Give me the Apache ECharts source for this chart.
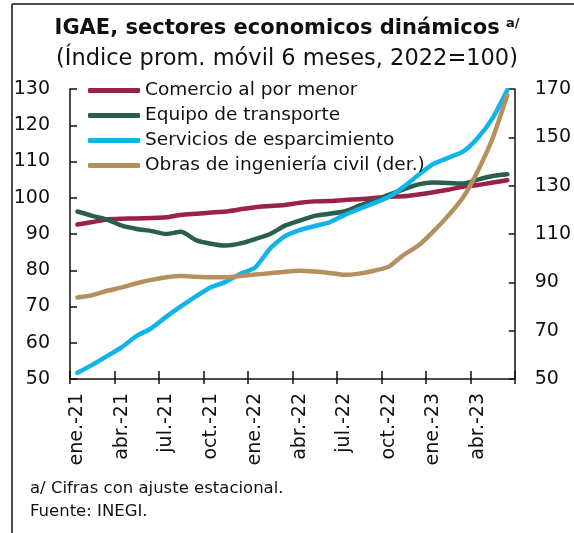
<!DOCTYPE html>
<html>
<head>
<meta charset="utf-8">
<script src="https://cdn.jsdelivr.net/npm/echarts@6/dist/echarts.min.js"></script>
<style>
  html, body { margin: 0; padding: 0; background: #fff; }
  #chart { width: 574px; height: 533px; }
</style>
</head>
<body>
<div id="chart"></div>
<script>
// meses ene-21 a jun-23
const meses = [
  'ene.-21', 'feb.-21', 'mar.-21', 'abr.-21', 'may.-21', 'jun.-21',
  'jul.-21', 'ago.-21', 'sep.-21', 'oct.-21', 'nov.-21', 'dic.-21',
  'ene.-22', 'feb.-22', 'mar.-22', 'abr.-22', 'may.-22', 'jun.-22',
  'jul.-22', 'ago.-22', 'sep.-22', 'oct.-22', 'nov.-22', 'dic.-22',
  'ene.-23', 'feb.-23', 'mar.-23', 'abr.-23', 'may.-23', 'jun.-23'
];

const comercio = [92.6, 93.3, 94.0, 94.2, 94.3, 94.4, 94.6, 95.3, 95.6, 95.9,
  96.2, 96.8, 97.4, 97.7, 98.0, 98.6, 99.0, 99.1, 99.4, 99.6,
  99.9, 100.3, 100.4, 100.9, 101.5, 102.2, 103.0, 103.5, 104.2, 104.8];
const transporte = [96.2, 95.0, 94.0, 92.3, 91.4, 90.8, 90.0, 90.6, 88.3, 87.3,
  86.8, 87.4, 88.6, 90.0, 92.3, 93.7, 95.0, 95.6, 96.2, 97.8,
  99.2, 100.8, 102.3, 103.7, 104.2, 104.1, 103.9, 105.0, 106.0, 106.5];
const esparcimiento = [51.7, 53.9, 56.3, 58.8, 61.9, 64.0, 67.2, 70.1, 72.8, 75.3,
  76.8, 79.0, 80.8, 86.0, 89.4, 91.1, 92.2, 93.2, 95.2, 96.9,
  98.5, 100.2, 103.0, 106.3, 109.3, 111.0, 112.7, 116.5, 121.9, 129.7];
const ingenieria = [83.7, 84.7, 86.5, 87.9, 89.6, 91.0, 92.1, 92.6, 92.3, 92.1,
  92.1, 92.6, 93.2, 93.8, 94.4, 94.8, 94.5, 93.9, 93.1, 93.6,
  94.8, 96.5, 101.3, 105.2, 111.0, 117.5, 125.0, 136.0, 149.5, 167.5];

const ticksIzq = [50, 60, 70, 80, 90, 100, 110, 120, 130];
const ticksDer = [50, 70, 90, 110, 130, 150, 170];

const fuente = '"DejaVu Sans", sans-serif';
const negro = '#111';

const chart = echarts.init(document.getElementById('chart'));

const linea = (name, data, color, yAxisIndex) => ({
  name: name,
  type: 'line',
  data: data,
  yAxisIndex: yAxisIndex,
  symbol: 'none',
  smooth: 0.2,
  lineStyle: { color: color, width: 4.5, cap: 'round', join: 'round' },
  itemStyle: { color: color },
  z: 3
});

const option = {
  animation: false,
  textStyle: { fontFamily: fuente },
  title: [{
    text: '{t|IGAE, sectores economicos dinámicos} {s|a/}',
    left: 'center',
    top: 12,
    textStyle: {
      rich: {
        t: { fontFamily: fuente, fontSize: 21, fontWeight: 'bold', color: negro },
        s: { fontFamily: fuente, fontSize: 13, fontWeight: 'bold', color: negro, verticalAlign: 'top', padding: [0, 0, 10, 0] }
      }
    }
  }, {
    text: '(Índice prom. móvil 6 meses, 2022=100)',
    left: 'center',
    top: 43,
    textStyle: { fontFamily: fuente, fontSize: 22.5, fontWeight: 'normal', color: negro }
  }],
  legend: {
    orient: 'vertical',
    left: 83,
    top: 76,
    itemWidth: 52,
    itemHeight: 5,
    itemGap: 6,
    icon: 'roundRect',
    textStyle: { fontFamily: fuente, fontSize: 18.5, color: negro, lineHeight: 19 },
    data: ['Comercio al por menor', 'Equipo de transporte', 'Servicios de esparcimiento', 'Obras de ingeniería civil (der.)']
  },
  grid: { left: 70, right: 56, top: 89, bottom: 154, containLabel: false },
  xAxis: [{
    type: 'category',
    data: meses,
    boundaryGap: true,
    axisLine: { show: true, lineStyle: { color: negro, width: 1.5 } },
    axisTick: { show: true, inside: true, length: 8, interval: 2, lineStyle: { color: negro, width: 1.5 } },
    axisLabel: { interval: 2, rotate: 90, margin: 14, fontSize: 19, color: negro, fontFamily: fuente },
    splitLine: { show: false }
  }, {
    type: 'category',
    data: meses,
    position: 'bottom',
    boundaryGap: true,
    axisLine: { show: false },
    axisTick: { show: true, inside: false, length: 5, interval: 2, lineStyle: { color: negro, width: 1.5 } },
    axisLabel: { show: false },
    splitLine: { show: false }
  }],
  yAxis: [{
    type: 'value',
    position: 'left',
    min: ticksIzq[0],
    max: ticksIzq[ticksIzq.length - 1],
    interval: ticksIzq[1] - ticksIzq[0],
    axisLine: { show: true, lineStyle: { color: negro, width: 1.5 } },
    axisTick: { show: true, inside: true, length: 7, lineStyle: { color: negro, width: 1.5 } },
    axisLabel: { fontSize: 19, color: negro, margin: 20, fontFamily: fuente },
    splitLine: { show: false }
  }, {
    type: 'value',
    position: 'right',
    min: ticksDer[0],
    max: ticksDer[ticksDer.length - 1],
    interval: ticksDer[1] - ticksDer[0],
    axisLine: { show: true, lineStyle: { color: negro, width: 1.5 } },
    axisTick: { show: true, inside: true, length: 6, lineStyle: { color: negro, width: 1.5 } },
    axisLabel: { fontSize: 19, color: negro, margin: 20, fontFamily: fuente },
    splitLine: { show: false }
  }],
  series: [
    linea('Comercio al por menor', comercio, '#9B2247', 0),
    linea('Equipo de transporte', transporte, '#2A5E4D', 0),
    linea('Servicios de esparcimiento', esparcimiento, '#10B4EA', 0),
    linea('Obras de ingeniería civil (der.)', ingenieria, '#B58F5E', 1)
  ],
  graphic: [
    { type: 'line', shape: { x1: 12, y1: 4, x2: 574, y2: 4 }, style: { stroke: negro, lineWidth: 1.5 } },
    { type: 'line', shape: { x1: 12, y1: 4, x2: 12, y2: 533 }, style: { stroke: negro, lineWidth: 1.5 } },
    { type: 'text', left: 30, top: 480, style: { text: 'a/ Cifras con ajuste estacional.', font: '16.5px ' + fuente, fill: negro } },
    { type: 'text', left: 30, top: 503, style: { text: 'Fuente: INEGI.', font: '16.5px ' + fuente, fill: negro } }
  ]
};

chart.setOption(option);
window.addEventListener('resize', function () {
  chart.resize();
});
</script>
</body>
</html>
